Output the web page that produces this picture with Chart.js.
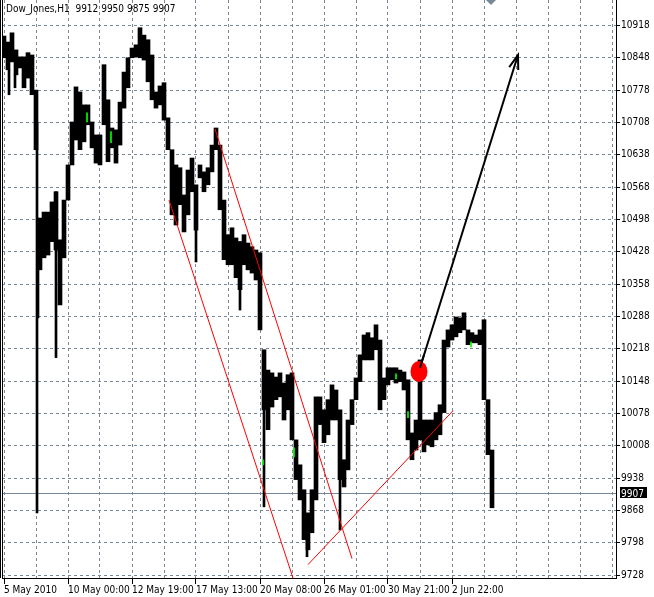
<!DOCTYPE html>
<html lang="en">
<head>
<meta charset="UTF-8">
<title>Dow_Jones,H1</title>
<style>
  html, body { margin: 0; padding: 0; background: #ffffff; }
  canvas { display: block; }
</style>
</head>
<body>
<canvas id="chart" width="654" height="597"></canvas>
<script src="https://cdn.jsdelivr.net/npm/chart.js"></script>
<script>
// hourly bars, grouped 4 hours per slot (x = hours from first bar)
const slotStep = 4;
const highs = [
  10895, 10882, 10902, 10865, 10850, 10850, 10859, 10854, 10778, 10501,
  10514, 10514, 10536, 10558, 10454, 10540, 10616, 10709, 10785, 10774,
  10746, 10746, 10709, 10681, 10681, 10833, 10757, 10696, 10692, 10752,
  10817, 10848, 10869, 10876, 10913, 10897, 10887, 10854, 10774, 10787,
  10794, 10718, 10649, 10616, 10610, 10551, 10605, 10631, 10573, 10616,
  10601, 10610, 10659, 10696, 10659, 10540, 10465, 10480, 10458, 10450,
  10465, 10447, 10439, 10432, 10426, 10216, 10172, 10166, 10157, 10166,
  10144, 10162, 10166, 10021, 9967, 9913, 9863, 9913, 10114, 10114,
  10086, 10108, 10140, 10129, 10086, 9978, 10064, 10108, 10155, 10205,
  10248, 10253, 10242, 10270, 10237, 10155, 10177, 10177, 10177, 10172,
  10168, 10151, 10036, 10064, 10194, 10064, 10064, 10064, 10080, 10097,
  10237, 10259, 10270, 10287, 10285, 10296, 10259, 10253, 10248, 10259,
  10281, 10108, 9999
];
const lows = [
  10848, 10822, 10839, 10811, 10826, 10783, 10804, 10768, 10649, 10389,
  10415, 10421, 10450, 10432, 10313, 10415, 10540, 10616, 10670, 10649,
  10666, 10703, 10653, 10620, 10616, 10703, 10623, 10653, 10620, 10659,
  10739, 10783, 10848, 10850, 10848, 10843, 10796, 10757, 10739, 10746,
  10713, 10649, 10508, 10486, 10530, 10471, 10508, 10558, 10475, 10588,
  10558, 10573, 10601, 10649, 10519, 10411, 10400, 10400, 10372, 10346,
  10400, 10389, 10382, 10367, 10259, 10086, 10043, 10092, 10108, 10114,
  10064, 10086, 10021, 9935, 9891, 9805, 9783, 9820, 9891, 10054,
  10015, 10032, 10064, 10064, 9935, 9919, 9956, 10054, 10108, 10147,
  10194, 10194, 10194, 10216, 10086, 10108, 10140, 10151, 10144, 10147,
  10129, 10021, 9978, 9999, 10021, 9995, 10010, 10006, 10021, 10032,
  10080, 10222, 10237, 10244, 10253, 10259, 10227, 10231, 10231, 10227,
  10108, 9989, 9874
];

// single long hourly bars (spikes)
const spikeHours = [5, 11, 33, 34, 52, 192, 236, 260, 303, 336];
const spikeHighs = [10822, 10811, 10707, 10501, 10558, 10514, 10450, 10194, 9848, 9993];
const spikeLows = [10768, 10783, 9863, 10285, 10199, 10406, 10302, 9876, 9768, 9826];

// bars drawn in green
const greenHours = [83, 107, 259, 290, 392, 404, 467];
const greenHighs = [10729, 10688, 9978, 10004, 10164, 10082, 10233];
const greenLows = [10709, 10664, 9967, 9984, 10153, 10069, 10222];

// axis
const priceTicks = [9728, 9798, 9868, 9938, 10008, 10078, 10148, 10218, 10288,
  10358, 10428, 10498, 10568, 10638, 10708, 10778, 10848, 10918];
const dateLabels = ['5 May 2010', '10 May 00:00', '12 May 19:00', '17 May 13:00',
  '20 May 08:00', '26 May 01:00', '30 May 21:00', '2 Jun 22:00'];
const labelEvery = 64;
const gridEvery = 32;
const priceMin = 9722, priceMax = 10973;
const hourMin = -2, hourMax = 612;

// header / last bar
const symbolTitle = 'Dow_Jones,H1  9912 9950 9875 9907';
const lastClose = 9907;

// drawn objects [hour, price]
const redLines = [
  [[165, 10540], [289, 9722]],
  [[211, 10694], [348, 9764]],
  [[304, 9751], [449, 10084]]
];
const arrowFrom = [416, 10177];
const arrowTo = [514, 10854];
const marker = [415, 10169];

const FONT = '"Liberation Sans Narrow", "DejaVu Sans Condensed", "Liberation Sans", sans-serif';
const GRID = '#778899';

const overlay = {
  id: 'overlay',
  beforeDraw(chart) {
    const ctx = chart.ctx;
    ctx.save();
    ctx.fillStyle = '#ffffff';
    ctx.fillRect(0, 0, chart.width, chart.height);
    ctx.restore();
  },
  beforeDatasetsDraw(chart) {
    const {ctx, chartArea: a, scales: {x, y}} = chart;
    const py = Math.round(y.getPixelForValue(lastClose)) + 0.5;
    ctx.save();
    ctx.strokeStyle = GRID;
    ctx.lineWidth = 1;
    ctx.beginPath();
    ctx.moveTo(a.left, py);
    ctx.lineTo(a.right, py);
    ctx.stroke();
    ctx.restore();
  },
  afterDatasetsDraw(chart) {
    const {ctx, chartArea: a, scales: {x, y}} = chart;
    const P = p => [x.getPixelForValue(p[0]), y.getPixelForValue(p[1])];
    ctx.save();
    ctx.beginPath();
    ctx.rect(a.left, a.top, a.right - a.left, a.bottom - a.top);
    ctx.clip();

    ctx.strokeStyle = '#ff0000';
    ctx.lineWidth = 1;
    redLines.forEach(([p1, p2]) => {
      const [x1, y1] = P(p1), [x2, y2] = P(p2);
      ctx.beginPath();
      ctx.moveTo(x1, y1);
      ctx.lineTo(x2, y2);
      ctx.stroke();
    });

    // arrow
    const [ax1, ay1] = P(arrowFrom), [ax2, ay2] = P(arrowTo);
    ctx.strokeStyle = '#000000';
    ctx.lineWidth = 2;
    ctx.beginPath();
    ctx.moveTo(ax1, ay1);
    ctx.lineTo(ax2, ay2);
    ctx.stroke();
    const ang = Math.atan2(ay2 - ay1, ax2 - ax1);
    const len = 15, spread = 0.32;
    ctx.beginPath();
    ctx.moveTo(ax2 - len * Math.cos(ang - spread), ay2 - len * Math.sin(ang - spread));
    ctx.lineTo(ax2, ay2);
    ctx.lineTo(ax2 - len * Math.cos(ang + spread), ay2 - len * Math.sin(ang + spread));
    ctx.stroke();

    // red marker
    const [mx, my] = P(marker);
    ctx.fillStyle = '#ff0000';
    ctx.beginPath();
    ctx.ellipse(mx, my, 8.5, 10.5, 0, 0, Math.PI * 2);
    ctx.fill();
    // arrow start over the marker
    ctx.strokeStyle = '#000000';
    ctx.lineWidth = 2;
    ctx.beginPath();
    ctx.moveTo(ax1, ay1);
    ctx.lineTo(ax1 + (ax2 - ax1) * 0.04, ay1 + (ay2 - ay1) * 0.04);
    ctx.stroke();
    ctx.restore();
  },
  afterDraw(chart) {
    const {ctx, chartArea: a, scales: {x, y}} = chart;
    ctx.save();
    // frame on the left
    ctx.strokeStyle = '#000000';
    ctx.lineWidth = 1;
    ctx.beginPath();
    ctx.moveTo(0.5, 0);
    ctx.lineTo(0.5, a.bottom);
    ctx.moveTo(2.5, 0);
    ctx.lineTo(2.5, a.bottom);
    ctx.stroke();

    // shift marker at the top
    const sx = x.getPixelForValue(487);
    ctx.fillStyle = GRID;
    ctx.beginPath();
    ctx.moveTo(sx - 5, 0);
    ctx.lineTo(sx + 5, 0);
    ctx.lineTo(sx, 5);
    ctx.closePath();
    ctx.fill();

    // title
    ctx.font = '10px ' + FONT;
    ctx.fillStyle = '#000000';
    ctx.textBaseline = 'alphabetic';
    ctx.textAlign = 'left';
    ctx.fillText(symbolTitle, 6, 12);

    // last price label
    const py = Math.round(y.getPixelForValue(lastClose));
    ctx.fillStyle = '#000000';
    ctx.fillRect(a.right + 4, py - 6, 27, 11);
    ctx.fillStyle = '#ffffff';
    ctx.fillText(String(lastClose), a.right + 5, py + 4);
    ctx.restore();
  }
};

const slotData = highs.map((h, i) => ({ x: i * slotStep, y: [lows[i], h] }));
const spikeData = spikeHours.map((hr, i) => ({ x: hr, y: [spikeLows[i], spikeHighs[i]] }));
const greenData = greenHours.map((hr, i) => ({ x: hr, y: [greenLows[i], greenHighs[i]] }));

new Chart(document.getElementById('chart'), {
  type: 'bar',
  data: {
    datasets: [
      { data: greenData, backgroundColor: '#00ff00', barThickness: 1, order: 0 },
      { data: spikeData, backgroundColor: '#000000', barThickness: 2, order: 1 },
      { data: slotData, backgroundColor: '#000000', barThickness: slotStep, order: 2 }
    ]
  },
  options: {
    responsive: false,
    animation: false,
    devicePixelRatio: 1,
    layout: { padding: { left: 2, top: 0, right: 0, bottom: 0 } },
    plugins: { legend: { display: false }, tooltip: { enabled: false } },
    datasets: { bar: { grouped: false, borderWidth: 0 } },
    scales: {
      x: {
        type: 'linear',
        min: hourMin,
        max: hourMax,
        offset: false,
        grid: {
          offset: false,
          color: GRID,
          lineWidth: 1,
          tickLength: 6,
          tickColor: c => (c.tick && c.tick.value % labelEvery === 0 &&
            c.tick.value / labelEvery < dateLabels.length) ? '#000000' : 'rgba(0,0,0,0)'
        },
        border: { display: true, color: '#000000', width: 1, dash: [3, 3] },
        afterBuildTicks: s => {
          const t = [];
          for (let v = 0; v <= hourMax - 4; v += gridEvery) t.push({ value: v });
          s.ticks = t;
        },
        afterFit: s => { s.height = 19; s.paddingLeft = 0; s.paddingRight = 0; },
        ticks: {
          autoSkip: false,
          maxRotation: 0,
          minRotation: 0,
          align: 'start',
          padding: 0,
          color: '#000000',
          font: { family: FONT, size: 10 },
          callback: v => (v % labelEvery === 0 && dateLabels[v / labelEvery]) || ''
        }
      },
      y: {
        position: 'right',
        min: priceMin,
        max: priceMax,
        grid: {
          color: GRID,
          lineWidth: 1,
          tickLength: 4,
          tickColor: '#000000'
        },
        border: { display: true, color: '#000000', width: 1, dash: [3, 3] },
        afterBuildTicks: s => { s.ticks = priceTicks.map(v => ({ value: v })); },
        afterFit: s => { s.width = 38; s.paddingTop = 0; s.paddingBottom = 0; },
        ticks: {
          padding: 1,
          color: '#000000',
          font: { family: FONT, size: 10 },
          callback: v => String(v)
        }
      }
    }
  },
  plugins: [overlay]
});
</script>
</body>
</html>
